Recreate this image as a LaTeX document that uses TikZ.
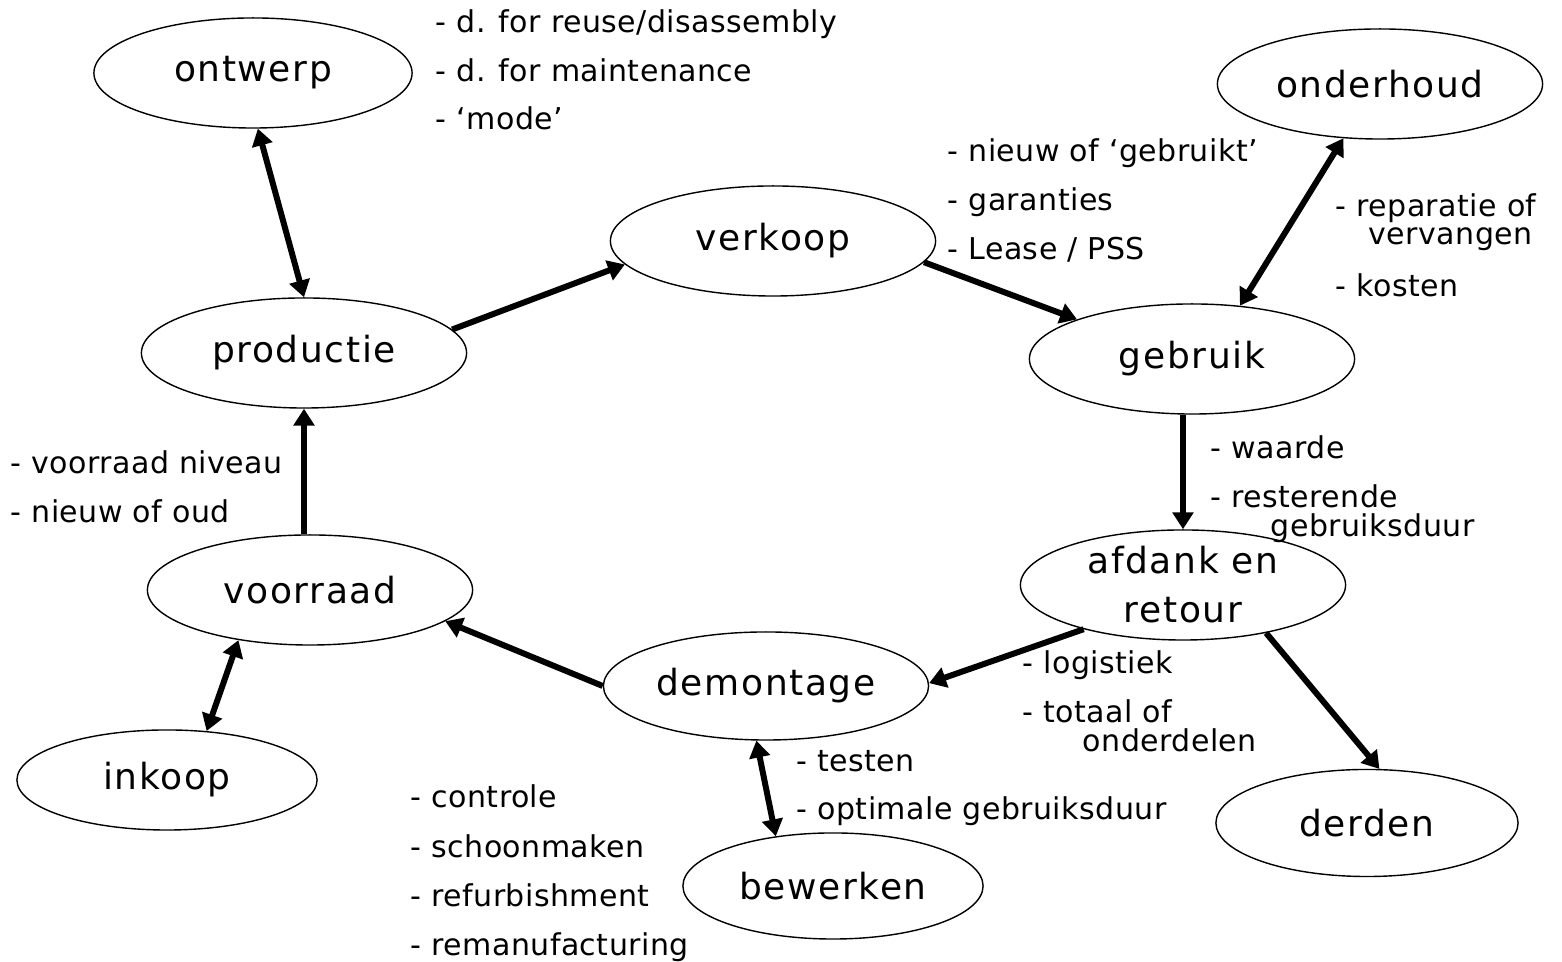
\documentclass[tikz,border=0pt]{standalone}
\usepackage{fontspec}
\setmainfont{DejaVu Sans}
\newfontfamily\boxfont[LetterSpace=4.5]{DejaVu Sans}
\newfontfamily\notefont[LetterSpace=1.5]{DejaVu Sans}
\usetikzlibrary{shapes.geometric,arrows.meta}

\begin{document}
\begin{tikzpicture}[x=0.01cm,y=-0.01cm]
		\tikzset{vertex/.style = {shape=ellipse,draw,line width=0.4pt,inner sep=0pt,minimum width=3.25cm,minimum height=1.1cm,align=center,font=\boxfont\fontsize{10.24}{13.9}\selectfont}}
		\tikzset{edge/.style = {->,> = {Triangle[length=4.8pt,width=5.8pt]},line width=1.7pt}}
		\tikzset{note/.style = {anchor=base west,inner sep=0pt,font=\notefont\fontsize{8.54}{10}\selectfont}}
		\useasboundingbox (0,0) rectangle (1562,962);
		% the cycle
		\node[vertex,minimum width=3.18cm] (ontwerp) at (253,73) {ontwerp};
		\node[vertex] (onderhoud) at (1380,84) {onderhoud};
		\node[vertex] (verkoop) at (773,241) {verkoop};
		\node[vertex] (productie) at (304,353) {productie};
		\node[vertex] (gebruik) at (1192,359) {gebruik};
		\node[vertex] (afdank) at (1183,585) {afdank en\\retour};
		\node[vertex] (voorraad) at (310,590) {voorraad};
		\node[vertex,minimum height=1.08cm] (demontage) at (766,686) {demontage};
		\node[vertex,minimum width=3cm,minimum height=1cm] (inkoop) at (167,780) {inkoop};
		\node[vertex,minimum width=3.02cm,minimum height=1.07cm] (derden) at (1367,823) {derden};
		\node[vertex,minimum width=3cm,minimum height=1.06cm] (bewerken) at (833,886) {bewerken};
		\draw[edge,<->] (ontwerp.-85) -- (productie.north);
		\draw[edge] (productie.9) -- (verkoop.189);
		\draw[edge] (verkoop.-8) -- (gebruik.161);
		\draw[edge,<->] (onderhoud.-124) -- (gebruik.48);
		\draw[edge] (gebruik.south -| afdank.north) -- (afdank.north);
		\draw[edge] (afdank.204) -- (demontage.1);
		\draw[edge] (afdank.-30) -- (derden.77);
		\draw[edge] (demontage.west) -- (voorraad.-13);
		\draw[edge] (voorraad.north -| productie.south) -- (productie.south);
		\draw[edge,<->] (voorraad.-145) -- (inkoop.51);
		\draw[edge,<->] (demontage.-100) -- (bewerken.139);
		% remarks
		\node[note] (ontwerpA) at (435,33) {- d. for reuse/disassembly};
		\node[note] (ontwerpB) at (435,82) {- d. for maintenance};
		\node[note] (ontwerpC) at (435,130) {- ‘mode’};
		\node[note] (verkoopA) at (947,162) {- nieuw of ‘gebruikt’};
		\node[note] (verkoopB) at (947,211) {- garanties};
		\node[note] (verkoopC) at (947,260) {- Lease / PSS};
		\node[note] (onderhoudA) at (1335,217) {- reparatie of};
		\node[note] (onderhoudAA) at (1368,245) {vervangen};
		\node[note] (onderhoudB) at (1335,297) {- kosten};
		\node[note] (gebruikA) at (1210,459) {- waarde};
		\node[note] (gebruikB) at (1210,508) {- resterende};
		\node[note] (gebruikBB) at (1270,537) {gebruiksduur};
		\node[note] (afdankA) at (1022,674) {- logistiek};
		\node[note] (afdankB) at (1022,723) {- totaal of};
		\node[note] (afdankBB) at (1082,752) {onderdelen};
		\node[note] (testA) at (796,772) {- testen};
		\node[note] (testB) at (796,820) {- optimale gebruiksduur};
		\node[note] (bewerkenA) at (410,808) {- controle};
		\node[note] (bewerkenB) at (410,858) {- schoonmaken};
		\node[note] (bewerkenC) at (410,907) {- refurbishment};
		\node[note] (bewerkenD) at (410,956) {- remanufacturing};
		\node[note] (voorraadA) at (10,474) {- voorraad niveau};
		\node[note] (voorraadB) at (10,523) {- nieuw of oud};
	\end{tikzpicture}
\end{document}
